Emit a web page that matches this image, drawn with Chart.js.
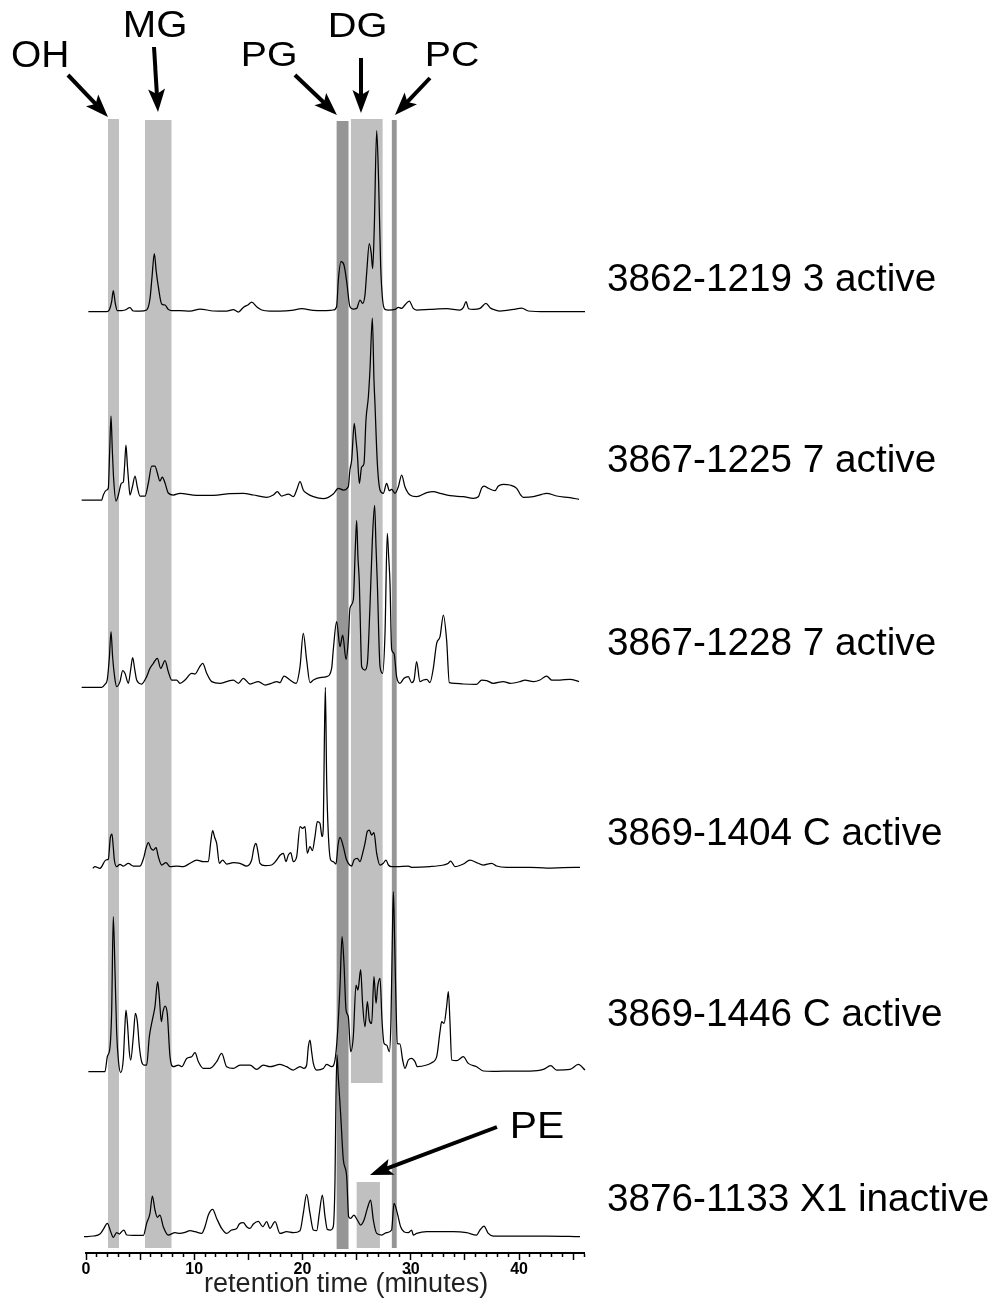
<!DOCTYPE html>
<html><head><meta charset="utf-8">
<style>html,body{margin:0;padding:0;background:#fff;}canvas{display:block;}</style>
<script src="https://cdn.jsdelivr.net/npm/chart.js@4.4.1/dist/chart.umd.min.js"></script>
</head><body>
<canvas id="c" width="999" height="1301" style="width:999px;height:1301px"></canvas>
<script>
// ---------------- DATA ----------------
const sampleLabels = ['3862-1219 3 active','3867-1225 7 active','3867-1228 7 active','3869-1404 C active','3869-1446 C active','3876-1133 X1 inactive'];
const tickLabelValues = [0,10,20,30,40];
const xAxisTitle = 'retention time (minutes)';

// chromatograms: [retention time (min), signal]
const trace3862 = [[0.22,0],[1.91,0],[2.16,2],[2.37,10],[2.52,21],[2.71,8],[2.89,1],[3.29,1],[3.60,1.7],[4.06,4],[4.37,0.7],[4.99,0.5],[5.60,1.7],[5.91,13],[6.10,35],[6.31,58],[6.49,40],[6.68,25],[6.99,7.7],[7.30,6.7],[7.60,2.3],[7.91,1],[8.68,1],[9.61,0.5],[10.53,2.7],[11.76,0.7],[12.99,0.5],[13.61,2],[14.07,-0.3],[14.53,4.3],[14.99,7],[15.30,9.7],[15.76,5],[16.23,1.7],[16.99,0.7],[17.92,0.7],[19.00,1.3],[19.92,3],[20.99,1.3],[21.92,1],[22.84,1.7],[23.15,5],[23.31,31.7],[23.55,50],[23.83,46.7],[24.08,30],[24.38,5],[24.69,2.7],[25.00,3.3],[25.31,11.7],[25.55,8.3],[25.77,16.7],[25.92,38],[26.17,68],[26.35,58],[26.48,43],[26.63,85],[26.85,181],[27.03,130],[27.22,45],[27.40,11.7],[27.62,2.3],[27.93,1.7],[28.54,2.3],[28.85,4.3],[29.16,3.3],[29.46,6.7],[29.86,10.7],[30.23,3.3],[30.54,1.7],[31.77,2.3],[33.31,3],[34.54,1.7],[34.85,4],[35.10,10],[35.34,3],[35.78,2.3],[36.39,3.3],[36.95,8.3],[37.32,4],[37.62,2.3],[38.24,0.7],[39.47,2.3],[40.24,3.7],[40.86,0.7],[42.55,0],[46.09,0]];
const trace3867a = [[-0.40,0],[1.45,0],[1.60,5],[1.91,10],[2.06,11.7],[2.19,50],[2.31,84],[2.43,50],[2.56,20],[2.77,-1],[2.99,5],[3.20,15],[3.29,17],[3.45,18],[3.57,35],[3.69,55],[3.82,35],[3.94,18],[4.06,5],[4.28,13],[4.53,24],[4.74,13],[4.99,4],[5.45,4],[5.76,17],[6.07,34],[6.37,34],[6.59,27],[6.83,19],[7.05,23],[7.30,17],[7.60,7],[8.07,5],[8.68,6.7],[10.22,4.7],[11.76,4.7],[13.30,6.3],[14.53,6.7],[15.46,5],[16.69,2.7],[17.30,5],[17.67,8.3],[18.07,4],[18.69,6],[19.15,3.3],[19.46,10],[19.77,18.3],[20.07,10],[20.38,6.7],[21.00,3.3],[21.92,1.3],[22.84,6],[23.31,11.7],[23.77,10],[24.23,13.3],[24.38,30],[24.54,40],[24.78,76.7],[24.94,60],[25.06,46.7],[25.25,16.7],[25.46,33],[25.68,36.7],[25.86,80],[26.08,103],[26.23,130],[26.45,182],[26.60,120],[26.69,96.7],[26.91,36.7],[27.16,10],[27.46,6.7],[27.77,16.7],[28.02,9.3],[28.23,10.7],[28.54,6.7],[28.85,13.3],[29.16,25],[29.46,13.3],[29.93,5],[30.54,3.3],[31.47,7.3],[32.08,8.3],[32.70,6.7],[33.62,4.3],[34.85,3.3],[35.78,1.7],[36.24,3.3],[36.55,12],[36.76,14],[37.16,11.7],[37.78,9.3],[38.09,14],[38.55,15.7],[39.16,15],[39.78,11.7],[40.15,5],[40.39,2.7],[41.32,3.3],[42.09,5.7],[42.55,6.7],[43.47,4],[44.70,2.3],[45.54,0.7]];
const trace3867b = [[-0.40,0],[1.45,0],[1.75,3],[1.97,8],[2.16,30],[2.31,55.7],[2.46,30],[2.65,10],[2.83,0.7],[3.14,5.7],[3.39,16.7],[3.60,14],[3.91,4],[4.13,18],[4.31,29.7],[4.50,18],[4.68,7.3],[5.14,3.3],[5.60,10.7],[5.91,19],[6.22,24],[6.59,29],[6.90,19],[7.30,26.7],[7.60,15.7],[7.91,7.3],[8.37,7.3],[8.68,4],[9.14,7.3],[9.76,14],[10.07,13.3],[10.47,20],[10.78,24],[11.15,14],[11.61,5.7],[12.38,4],[12.99,5.7],[13.61,7.3],[14.07,4],[14.53,9],[15.15,3.3],[15.92,5.7],[16.53,2.3],[17.30,4.7],[17.61,5.7],[17.92,4.7],[18.29,11.3],[18.84,7.3],[19.40,4],[19.77,20.7],[20.07,54],[20.38,27.3],[20.69,4.7],[21.00,7.3],[21.61,9.7],[22.23,10.7],[22.69,19],[22.84,37.3],[23.15,65.7],[23.46,40.7],[23.71,52.3],[24.02,28],[24.23,47.3],[24.38,79],[24.69,87.3],[24.88,140],[25.00,166.7],[25.12,130],[25.25,104],[25.37,50],[25.46,20.7],[25.77,17.3],[25.99,24],[26.23,80.7],[26.45,147],[26.66,182],[26.79,140],[26.91,104],[27.16,20.7],[27.40,14],[27.62,54],[27.83,154],[27.96,130],[28.08,104],[28.23,38],[28.45,34],[28.69,10.7],[29.00,4],[29.37,9],[29.77,10.7],[30.08,4.7],[30.30,7.3],[30.54,25.7],[30.85,5.7],[31.16,7.3],[31.47,8],[31.77,4.7],[32.08,19],[32.39,44],[32.70,50.7],[33.01,72.3],[33.31,47.3],[33.56,4.7],[34.08,4],[34.85,3.3],[36.08,3],[36.55,7.3],[37.01,6.7],[37.62,4],[38.55,5.7],[39.16,4],[40.09,5.7],[40.55,7.3],[41.32,5.7],[41.93,7.3],[42.55,11.3],[43.01,7.3],[43.78,7.3],[44.70,8],[45.54,5.7]];
const trace3869a = [[0.62,-1],[0.83,0.7],[1.29,-1],[1.85,7.3],[2.06,8],[2.25,30],[2.40,33.3],[2.52,20],[2.62,7.3],[2.83,0.7],[3.14,3],[3.45,1.3],[3.91,4],[4.37,1.3],[4.99,1.3],[5.36,10.7],[5.54,19],[5.76,24.7],[6.00,19],[6.22,17.3],[6.47,19.7],[6.68,10.7],[6.99,2.3],[7.39,4.7],[7.76,0.7],[8.37,1.3],[8.99,0.7],[9.61,4],[10.22,7.3],[10.84,5.7],[11.30,5.7],[11.52,25],[11.70,36.7],[11.88,30],[12.07,24],[12.32,4],[12.62,7.3],[12.99,3.3],[13.61,4.7],[14.22,4],[14.84,1.3],[15.30,7.3],[15.52,20],[15.70,24],[15.89,15],[16.07,4],[16.53,1.7],[17.15,2.3],[17.61,7.3],[17.92,12],[18.23,14],[18.47,5.7],[18.69,12.3],[18.91,14.7],[19.15,5.7],[19.46,10.7],[19.77,40.7],[20.01,39],[20.23,40.7],[20.44,14],[20.69,20.7],[20.91,16.7],[21.15,30.7],[21.37,45.7],[21.61,44],[21.80,30.7],[21.92,40.7],[22.01,120],[22.11,180],[22.23,87.3],[22.38,34],[22.60,7.3],[22.84,5.7],[23.09,3.3],[23.28,22.3],[23.46,30],[23.77,20.7],[24.02,9],[24.23,4],[24.54,1.3],[24.75,7.3],[25.06,9],[25.31,5.7],[25.55,14],[25.77,24],[25.99,36],[26.17,37.3],[26.38,32.3],[26.60,34.7],[26.85,14],[27.16,2.3],[27.46,4],[27.71,7.3],[27.93,2.3],[28.23,0.7],[28.69,0.7],[29.77,1.3],[30.08,0],[31.77,0.7],[33.00,2.3],[33.47,4],[33.68,6.3],[34.08,0.7],[34.85,3.3],[35.47,7.3],[36.08,4.7],[36.70,2.3],[37.47,4],[37.93,1.3],[38.86,0],[41.01,0],[42.55,-0.7],[44.09,-0.3],[45.63,0]];
const trace3869b = [[0.22,0],[1.75,0],[1.97,15],[2.22,25],[2.37,60],[2.52,155],[2.68,100],[2.83,40],[2.99,11.7],[3.20,-1],[3.45,13.3],[3.57,40],[3.69,61.7],[3.85,45],[4.00,20],[4.13,11.7],[4.37,35],[4.56,58.3],[4.74,50],[4.93,25],[5.14,10],[5.36,6.7],[5.60,6.7],[5.85,35],[6.16,53.3],[6.37,65],[6.62,90],[6.77,75],[6.96,50],[7.11,60],[7.30,65.7],[7.51,58],[7.76,15],[8.07,5],[8.53,6.7],[8.84,5],[9.30,13.3],[9.76,15],[10.07,19],[10.38,10],[10.84,3.3],[11.45,3.3],[12.07,10],[12.53,18.3],[12.99,5],[13.61,3.3],[14.22,6.7],[15.15,6.7],[15.76,2.3],[16.38,6.7],[16.99,5],[17.92,7.3],[18.53,5],[19.15,1.7],[19.77,5],[20.13,3.3],[20.38,6.7],[20.54,25],[20.69,31.7],[20.84,20],[21.00,8.3],[21.31,1.7],[21.92,3.3],[22.23,7.3],[22.69,5],[23.00,11.7],[23.21,35],[23.46,85],[23.65,135],[23.83,108],[24.02,61.7],[24.23,55],[24.45,20],[24.69,35],[24.94,86.7],[25.12,81.7],[25.37,102],[25.55,68],[25.77,45],[25.99,70],[26.17,51.7],[26.39,48.3],[26.60,95],[26.79,68.3],[26.94,85],[27.16,93.3],[27.34,51.7],[27.53,28.3],[27.77,26.7],[28.02,20],[28.17,51.7],[28.29,130],[28.39,180],[28.51,130],[28.63,70],[28.76,28.3],[29.00,27.7],[29.25,11.7],[29.46,3.3],[29.77,11.7],[30.08,13.3],[30.39,10],[30.60,5],[31.47,6.7],[31.93,9],[32.39,15],[32.70,40],[32.85,50],[33.07,48.3],[33.31,65],[33.47,80],[33.62,50],[33.78,11.7],[34.24,11],[34.85,15],[35.31,8.3],[36.08,5],[36.70,0.7],[37.62,0.3],[39.47,0.7],[41.01,0.7],[42.24,2.3],[42.92,6],[43.47,1.7],[44.70,2.3],[45.48,7.3],[46.09,1.7]];
const trace3876 = [[-0.18,0],[0.68,0.7],[1.29,2.7],[1.60,7.3],[1.97,13.3],[2.28,5],[2.52,-0.7],[2.83,4],[3.08,2.7],[3.29,5],[3.51,6.7],[3.76,1.7],[4.37,1.3],[5.30,1.3],[5.60,13.3],[5.91,23.3],[6.13,40.7],[6.37,26.7],[6.59,19.3],[6.83,21.7],[7.14,10],[7.60,1.7],[8.22,4],[8.68,3.3],[9.14,4.3],[9.61,6],[10.07,5],[10.68,3.3],[10.99,10],[11.30,21.7],[11.70,27.3],[12.07,18.3],[12.53,8.3],[12.99,3.3],[13.45,6.7],[13.92,8.3],[14.16,12.7],[14.53,14],[14.84,10],[15.15,8.3],[15.46,12.7],[15.92,15.3],[16.32,10],[16.69,15],[16.99,8.3],[17.46,15],[17.92,3.3],[18.53,5],[19.15,4],[19.77,6],[20.07,23.3],[20.38,42.3],[20.69,23.3],[21.00,6.7],[21.31,6],[21.55,23.3],[21.83,41.7],[22.08,20],[22.29,7.3],[22.60,6.7],[22.84,10],[23.00,56.7],[23.09,140],[23.18,182],[23.30,160],[23.52,123],[23.77,77],[24.08,60],[24.26,20],[24.45,18.3],[24.75,21.7],[25.06,16.7],[25.37,11.7],[25.68,16.7],[25.99,28.3],[26.29,36.7],[26.54,16.7],[26.85,3.3],[27.31,1.7],[27.77,4],[28.23,6.7],[28.45,33.3],[28.76,23.3],[29.06,10],[29.37,5],[29.77,4],[30.08,6.7],[30.23,1.7],[30.54,3.3],[31.47,5],[32.70,5],[33.93,5],[35.16,4],[36.08,1.7],[36.39,6.7],[36.76,10.7],[37.16,3.3],[37.62,0.7],[39.47,0.7],[42.55,0.7],[45.63,0]];
const traces = [trace3862, trace3867a, trace3867b, trace3869a, trace3869b, trace3876];

// lipid class windows (retention time, minutes)
const bandNames = ['OH','MG','PG','DG','PC','PE'];
const bandStart = [2.03, 5.45, 23.15, 24.47, 28.25, 25.0];
const bandEnd   = [3.05, 7.90, 24.25, 27.40, 28.70, 27.15];

// ---------------- LAYOUT / STYLE ----------------
const FONT = '"Liberation Sans", Arial, Helvetica, sans-serif';
const LIGHT = '#c0c0c0', DARK = '#969696';
const traceBaseline = [941.3, 753, 565.7, 385.7, 181.3, 16.3];   // vertical stacking offsets
const bandTop    = [1134, 1133, 1132, 1134, 1133, 71];
const bandBottom = [5, 5, 4, 170, 5, 5];
const bandDark   = [false, false, true, false, true, false];
const arrowSpec = [ // tip in data coords, tail as pixel offset
  {t:2.03, v:1136, dx:-40, dy:-42},
  {t:6.65, v:1141, dx:-4, dy:-65},
  {t:23.18, v:1138, dx:-42, dy:-40},
  {t:25.4, v:1140, dx:0, dy:-55},
  {t:28.54, v:1138, dx:35, dy:-37},
  {t:26.23, v:78, dx:127, dy:-48}
];
const nameBoxes = [ // ink left, right, baseline, cap height
  [12,67,67,26],[125,185,37,26],[243,295,66,25],[330,385,37,25],[427,478,66,25],[513,563,1138,27]
];
const sampleBaselineY = [290.5, 471.5, 654.5, 844.5, 1025.5, 1210.5];

Chart.defaults.font.family = FONT;

function fitText(ctx, text, left, right, baseline, capH, color) {
  const size = capH / 0.716;
  ctx.font = size + 'px ' + FONT;
  ctx.textAlign = 'left'; ctx.textBaseline = 'alphabetic';
  const m = ctx.measureText(text);
  const ink = m.actualBoundingBoxLeft + m.actualBoundingBoxRight;
  const sx = (right - left) / ink;
  ctx.save();
  ctx.translate(left, baseline);
  ctx.scale(sx, 1);
  ctx.fillStyle = color;
  ctx.fillText(text, m.actualBoundingBoxLeft, 0);
  ctx.restore();
}

function arrow(ctx, x1, y1, x2, y2) {
  const a = Math.atan2(y2 - y1, x2 - x1);
  const hl = 20, hw = 8.5;
  const c = Math.cos(a), s = Math.sin(a);
  const bx = x2 - hl * c, by = y2 - hl * s;
  ctx.beginPath(); ctx.moveTo(x1, y1); ctx.lineTo(bx + 3 * c, by + 3 * s);
  ctx.lineWidth = 4; ctx.strokeStyle = '#000'; ctx.lineCap = 'butt'; ctx.stroke();
  ctx.beginPath();
  ctx.moveTo(x2, y2);
  ctx.lineTo(bx - 3 * c + hw * s, by - 3 * s - hw * c);
  ctx.lineTo(bx + 2 * c, by + 2 * s);
  ctx.lineTo(bx - 3 * c - hw * s, by - 3 * s + hw * c);
  ctx.closePath(); ctx.fillStyle = '#000'; ctx.fill();
}

const overlay = {
  id: 'overlay',
  beforeDatasetsDraw(chart) {
    const {ctx, scales: {x, y}} = chart;
    ctx.save();
    bandNames.forEach((n, i) => {
      const x0 = x.getPixelForValue(bandStart[i]), x1 = x.getPixelForValue(bandEnd[i]);
      const y0 = y.getPixelForValue(bandTop[i]), y1 = y.getPixelForValue(bandBottom[i]);
      ctx.fillStyle = bandDark[i] ? DARK : LIGHT;
      ctx.fillRect(x0, y0, x1 - x0, y1 - y0);
    });
    ctx.restore();
  },
  afterDraw(chart) {
    const {ctx, scales: {x, y}} = chart;
    ctx.save();
    arrowSpec.forEach(a => {
      const tx = x.getPixelForValue(a.t), ty = y.getPixelForValue(a.v);
      arrow(ctx, tx + a.dx, ty + a.dy, tx, ty);
    });
    bandNames.forEach((n, i) => {
      const b = nameBoxes[i];
      fitText(ctx, n, b[0], b[1], b[2], b[3], '#000');
    });
    // sample names, common horizontal scale
    const size = 38;
    ctx.font = size + 'px ' + FONT;
    const m0 = ctx.measureText(sampleLabels[0]);
    const sx = 327 / (m0.actualBoundingBoxLeft + m0.actualBoundingBoxRight);
    sampleLabels.forEach((s, i) => {
      ctx.save();
      ctx.font = size + 'px ' + FONT;
      ctx.textAlign = 'left'; ctx.textBaseline = 'alphabetic';
      const m = ctx.measureText(s);
      ctx.translate(608, sampleBaselineY[i]);
      ctx.scale(sx, 1);
      ctx.fillStyle = '#000';
      ctx.fillText(s, m.actualBoundingBoxLeft, 0);
      ctx.restore();
    });
    fitText(ctx, xAxisTitle, 205, 487, 1292, 20, '#222');
    ctx.restore();
  }
};

new Chart(document.getElementById('c'), {
  type: 'line',
  data: {
    datasets: traces.map((tr, i) => ({
      label: sampleLabels[i],
      data: tr.map(p => ({x: p[0], y: p[1] + traceBaseline[i]})),
      borderColor: '#000',
      borderWidth: 1.25,
      pointRadius: 0,
      fill: false,
      cubicInterpolationMode: 'monotone',
      clip: false
    }))
  },
  options: {
    responsive: false,
    animation: false,
    devicePixelRatio: 1,
    layout: {padding: {left: 86, right: 415, top: 10, bottom: 21.8}},
    plugins: {legend: {display: false}, tooltip: {enabled: false}, title: {display: false}},
    scales: {
      x: {
        type: 'linear', min: 0, max: 46,
        ticks: {
          stepSize: 1, autoSkip: false, maxRotation: 0, minRotation: 0, padding: 0,
          color: '#000', font: {size: 16, weight: 'bold', family: FONT},
          callback: v => tickLabelValues.includes(v) ? String(v) : ''
        },
        grid: {
          drawOnChartArea: false, drawTicks: true, tickLength: 7,
          tickColor: '#000', tickWidth: 1.5,
          tickBorderDash: c => (c.tick && c.tick.value % 5 === 0) ? [] : [3, 40]
        },
        border: {display: true, color: '#000', width: 2}
      },
      y: {display: false, min: 0, max: 1243}
    }
  },
  plugins: [overlay]
});
</script>
</body></html>
